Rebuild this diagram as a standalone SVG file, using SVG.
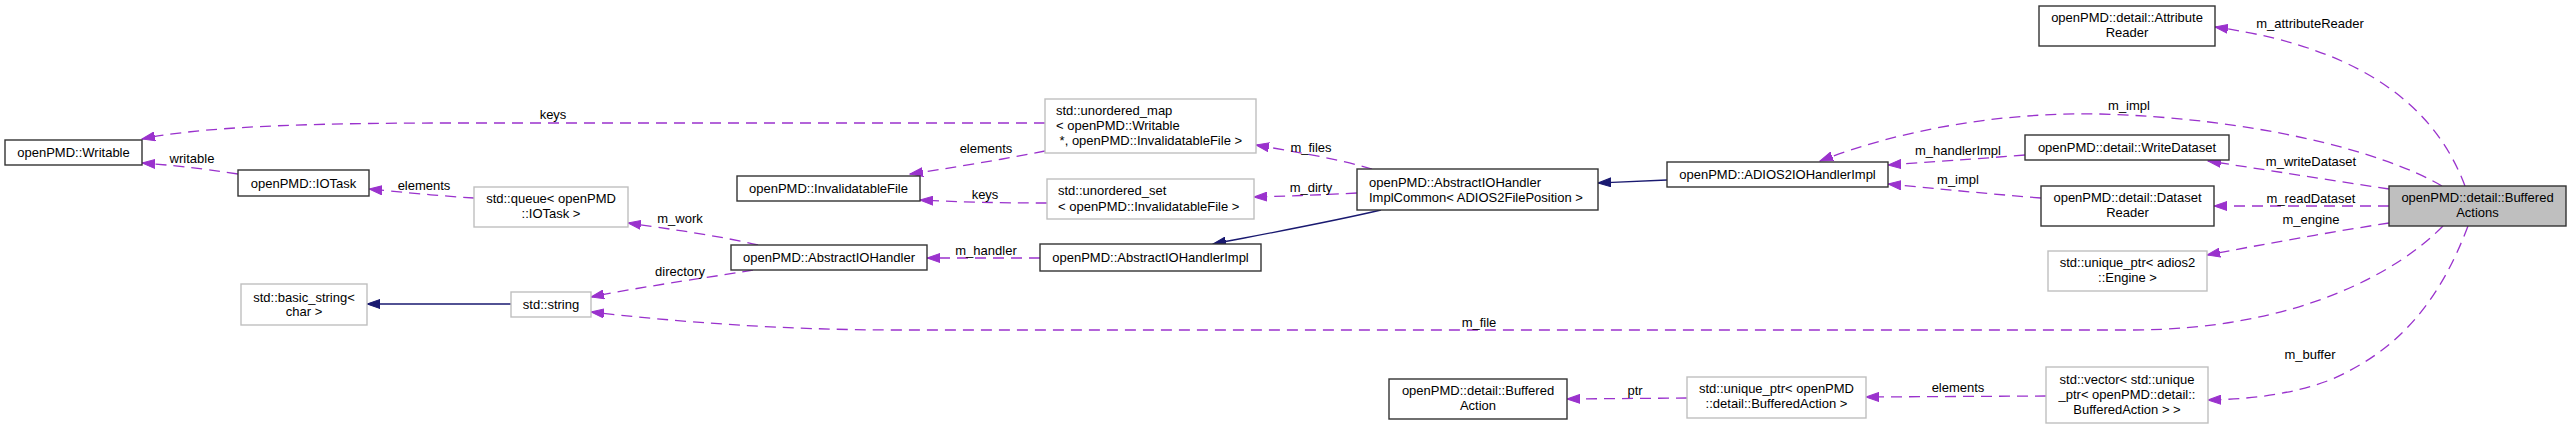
<svg xmlns="http://www.w3.org/2000/svg" width="2571" height="429" viewBox="0 0 2571 429">
<style>
text{font-family:"Liberation Sans",Arial,sans-serif;font-size:13px;fill:#000}
.c{text-anchor:middle}
.n rect{fill:#fff;stroke:#333;stroke-width:1.4}
.u rect{fill:#fff;stroke:#bfbfbf;stroke-width:1.4}
.e{fill:none;stroke:#9a32cd;stroke-width:1.3;stroke-dasharray:11,7}
.b{fill:none;stroke:#191970;stroke-width:1.3}
</style>
<defs>
<marker id="ap" markerUnits="userSpaceOnUse" markerWidth="14" markerHeight="10" refX="13" refY="5" orient="auto"><path d="M0,0.5 L13,5 L0,9.5 z" fill="#9a32cd" stroke="#9a32cd"/></marker>
<marker id="ab" markerUnits="userSpaceOnUse" markerWidth="14" markerHeight="10" refX="13" refY="5" orient="auto"><path d="M0,0.5 L13,5 L0,9.5 z" fill="#191970" stroke="#191970"/></marker>
</defs>
<rect width="2571" height="429" fill="#fff"/>
<g id="connectors">
<path class="e" marker-end="url(#ap)" d="M1045,123 L450,123 C300,123 200,127 142,139"/>
<path class="e" marker-end="url(#ap)" d="M238,174 C200,168 170,165 142,163"/>
<path class="e" marker-end="url(#ap)" d="M474,198 C440,196 400,192 369,189"/>
<path class="e" marker-end="url(#ap)" d="M758,245 C720,236 670,229 628,223"/>
<path class="e" marker-end="url(#ap)" d="M753,270 C720,276 650,285 591,297"/>
<path class="e" marker-end="url(#ap)" d="M2443,226 C2400,270 2300,330 2130,330 L900,330 C780,330 680,322 591,312"/>
<path class="e" marker-end="url(#ap)" d="M1045,151 C1000,160 950,168 910,174"/>
<path class="e" marker-end="url(#ap)" d="M1047,203 C1000,203 960,202 920,200"/>
<path class="e" marker-end="url(#ap)" d="M1372,169 C1335,158 1290,151 1256,145"/>
<path class="e" marker-end="url(#ap)" d="M1357,193 C1320,195 1290,196 1254,197"/>
<path class="e" marker-end="url(#ap)" d="M1040,258 L927,258"/>
<path class="b" marker-end="url(#ab)" d="M1381,210 C1330,222 1270,233 1213,244"/>
<path class="b" marker-end="url(#ab)" d="M1667,180 C1640,181 1620,182 1598,183"/>
<path class="b" marker-end="url(#ab)" d="M511,304 L367,304"/>
<path class="e" marker-end="url(#ap)" d="M2442,186 C2380,150 2250,118 2100,114 C2000,112 1900,130 1820,161"/>
<path class="e" marker-end="url(#ap)" d="M2025,155 C1975,159 1930,162 1888,165"/>
<path class="e" marker-end="url(#ap)" d="M2041,198 C1990,194 1940,189 1888,184"/>
<path class="e" marker-end="url(#ap)" d="M2465,186 C2440,120 2380,50 2215,27"/>
<path class="e" marker-end="url(#ap)" d="M2389,189 C2330,180 2260,169 2208,161"/>
<path class="e" marker-end="url(#ap)" d="M2389,206 L2214,206"/>
<path class="e" marker-end="url(#ap)" d="M2389,223 C2330,232 2260,245 2207,255"/>
<path class="e" marker-end="url(#ap)" d="M2468,226 C2440,300 2400,350 2330,380 C2290,395 2250,399 2208,400"/>
<path class="e" marker-end="url(#ap)" d="M2046,396 L1866,397"/>
<path class="e" marker-end="url(#ap)" d="M1687,398 L1567,399"/>
<text class="c" x="553" y="118.5">keys</text>
<text class="c" x="192" y="162.5">writable</text>
<text class="c" x="424" y="189.5">elements</text>
<text class="c" x="680" y="222.5">m_work</text>
<text class="c" x="680" y="275.5">directory</text>
<text class="c" x="986" y="152.5">elements</text>
<text class="c" x="985" y="198.5">keys</text>
<text class="c" x="986" y="254.5">m_handler</text>
<text class="c" x="1311" y="151.5">m_files</text>
<text class="c" x="1311" y="191.5">m_dirty</text>
<text class="c" x="2129" y="109.5">m_impl</text>
<text class="c" x="1958" y="154.5">m_handlerImpl</text>
<text class="c" x="1958" y="183.5">m_impl</text>
<text class="c" x="2310" y="27.5">m_attributeReader</text>
<text class="c" x="2311" y="165.5">m_writeDataset</text>
<text class="c" x="2311" y="202.5">m_readDataset</text>
<text class="c" x="2311" y="223.5">m_engine</text>
<text class="c" x="1479" y="326.5">m_file</text>
<text class="c" x="1635" y="394.5">ptr</text>
<text class="c" x="1958" y="391.5">elements</text>
<text class="c" x="2310" y="358.5">m_buffer</text>
</g>
<g id="n_writable" class="n"><rect x="5" y="140" width="137" height="25"/><text class="c" x="73.5" y="157">openPMD::Writable</text></g>
<g id="n_iotask" class="n"><rect x="238" y="170" width="131" height="26"/><text class="c" x="303.5" y="187.5">openPMD::IOTask</text></g>
<g id="n_queue" class="u"><rect x="474" y="187" width="154" height="40"/><text class="c" x="551" y="203">std::queue&lt; openPMD</text><text class="c" x="551" y="218">::IOTask &gt;</text></g>
<g id="n_invfile" class="n"><rect x="737" y="176" width="183" height="25"/><text class="c" x="828.5" y="193">openPMD::InvalidatableFile</text></g>
<g id="n_aioh" class="n"><rect x="731" y="245" width="196" height="25"/><text class="c" x="829" y="262">openPMD::AbstractIOHandler</text></g>
<g id="n_umap" class="u"><rect x="1045" y="99" width="211" height="54"/><text x="1056" y="115">std::unordered_map</text><text x="1056" y="129.5">&lt; openPMD::Writable</text><text x="1056" y="144.5" xml:space="preserve"> *, openPMD::InvalidatableFile &gt;</text></g>
<g id="n_uset" class="u"><rect x="1047" y="179" width="207" height="40"/><text x="1058" y="195">std::unordered_set</text><text x="1058" y="210.5">&lt; openPMD::InvalidatableFile &gt;</text></g>
<g id="n_aiohimpl" class="n"><rect x="1040" y="244" width="221" height="27"/><text class="c" x="1150.5" y="262">openPMD::AbstractIOHandlerImpl</text></g>
<g id="n_common" class="n"><rect x="1357" y="169" width="241" height="41"/><text x="1369" y="186.5">openPMD::AbstractIOHandler</text><text x="1369" y="201.5">ImplCommon&lt; ADIOS2FilePosition &gt;</text></g>
<g id="n_adios2impl" class="n"><rect x="1667" y="162" width="221" height="25"/><text class="c" x="1777.5" y="179">openPMD::ADIOS2IOHandlerImpl</text></g>
<g id="n_attrreader" class="n"><rect x="2039" y="6" width="176" height="40"/><text class="c" x="2127" y="21.5">openPMD::detail::Attribute</text><text class="c" x="2127" y="36.5">Reader</text></g>
<g id="n_writeds" class="n"><rect x="2025" y="135" width="204" height="25"/><text class="c" x="2127" y="152">openPMD::detail::WriteDataset</text></g>
<g id="n_dsreader" class="n"><rect x="2041" y="186" width="173" height="40"/><text class="c" x="2127.5" y="201.5">openPMD::detail::Dataset</text><text class="c" x="2127.5" y="216.5">Reader</text></g>
<g id="n_engine" class="u"><rect x="2048" y="251" width="159" height="40"/><text class="c" x="2127.5" y="266.5">std::unique_ptr&lt; adios2</text><text class="c" x="2127.5" y="281.5">::Engine &gt;</text></g>
<g id="n_bufactions" class="n"><rect x="2389" y="186" width="177" height="40" style="fill:#bfbfbf"/><text class="c" x="2477.5" y="201.5">openPMD::detail::Buffered</text><text class="c" x="2477.5" y="216.5">Actions</text></g>
<g id="n_basicstring" class="u"><rect x="241" y="284" width="126" height="41"/><text class="c" x="304" y="301.5">std::basic_string&lt;</text><text class="c" x="304" y="316">char &gt;</text></g>
<g id="n_string" class="u"><rect x="511" y="292" width="80" height="25"/><text class="c" x="551" y="309">std::string</text></g>
<g id="n_bufaction" class="n"><rect x="1389" y="379" width="178" height="40"/><text class="c" x="1478" y="394.5">openPMD::detail::Buffered</text><text class="c" x="1478" y="409.5">Action</text></g>
<g id="n_uptrba" class="u"><rect x="1687" y="377" width="179" height="41"/><text class="c" x="1776.5" y="393">std::unique_ptr&lt; openPMD</text><text class="c" x="1776.5" y="408">::detail::BufferedAction &gt;</text></g>
<g id="n_vector" class="u"><rect x="2046" y="367" width="162" height="56"/><text class="c" x="2127" y="383.5">std::vector&lt; std::unique</text><text class="c" x="2127" y="398.5">_ptr&lt; openPMD::detail::</text><text class="c" x="2127" y="413.5">BufferedAction &gt; &gt;</text></g>
</svg>
